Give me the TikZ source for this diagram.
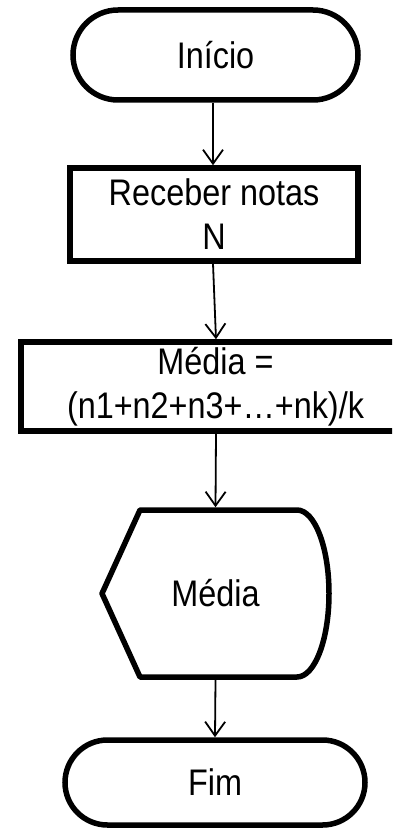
\documentclass[tikz,border=0pt]{standalone}
\usepackage{fontspec}
\setmainfont[FakeStretch=0.875]{Liberation Sans}
\usetikzlibrary{arrows.meta,shapes.misc}

\begin{document}
\begin{tikzpicture}[x=1pt,y=-1pt,
  box/.style={draw, line width=5.5pt, inner sep=0pt, align=center,
              font=\fontsize{37}{44}\selectfont},
  term/.style={box, rounded rectangle},
  flow/.style={line width=1.8pt, -{Straight Barb[length=14pt,width=20pt]}}
]
\useasboundingbox (0,0) rectangle (392,829);
\clip (0,0) rectangle (392,829);

% Terminators, process boxes and the display symbol
\node[term, minimum width=285, minimum height=90] (ini) at (215.5,55) {Início};
\node[box, minimum width=288, minimum height=93] (rec) at (214,214.5) {Receber notas\\N};
\node[box, minimum width=389, minimum height=89] (med) at (215.5,386.5) {Média =\\(n1+n2+n3+…+nk)/k};
\node[box, draw=none, minimum width=227, minimum height=167] (disp) at (215.5,593.5) {Média};
\draw[line width=5.5pt, line join=round]
  (140,510) -- (297,510)
  .. controls (314.7,510) and (329,547.2) .. (329,593.5)
  .. controls (329,639.8) and (314.7,677) .. (297,677)
  -- (140,677) -- (102,593.5) -- cycle;
\node[term, minimum width=300, minimum height=85] (fim) at (215,782.5) {Fim};

% Flow connectors
\draw[flow] ([xshift=-2.5pt]ini.south) -- ([xshift=-1pt]rec.north);
\draw[flow] ([xshift=-1pt]rec.south) -- ([xshift=0.5pt]med.north);
\draw[flow] ([xshift=0.5pt]med.south) -- (disp.north);
\draw[flow] (disp.south) -- (fim.north);
\end{tikzpicture}
\end{document}
